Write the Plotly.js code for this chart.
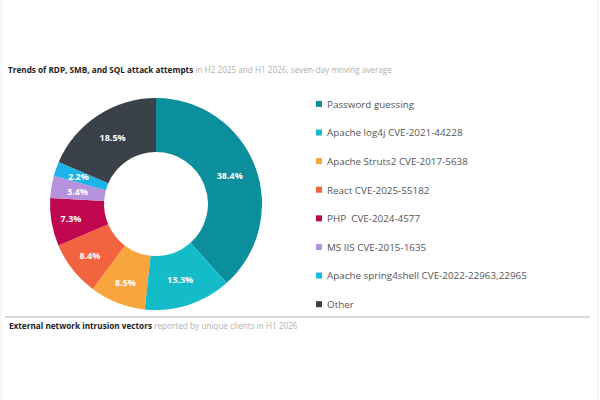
<!DOCTYPE html>
<html>
<head>
<meta charset="utf-8">
<script src="https://cdn.plot.ly/plotly-3.0.1.min.js"></script>
<style>
html,body{margin:0;padding:0;background:#fff;}
#chart{width:600px;height:400px;}
</style>
</head>
<body>
<div id="chart"></div>
<script>
const labels = [
  "Password guessing",
  "Apache log4j CVE-2021-44228",
  "Apache Struts2 CVE-2017-5638",
  "React CVE-2025-55182",
  "PHP  CVE-2024-4577",
  "MS IIS CVE-2015-1635",
  "Apache spring4shell CVE-2022-22963,22965",
  "Other"
];
const values = [38.4, 13.3, 8.5, 8.4, 7.3, 3.4, 2.2, 18.5];
const colors = ["#0b8f9c", "#14bcca", "#f9a53e", "#f26440", "#c0064e", "#b493dc", "#1ab4e8", "#3a4149"];

const W = 600, H = 400;
const SMALL = 5; // slices below this share get their label on an inner overlay ring
const mainText = values.map(v => v < SMALL ? "" : "<b>%{value:.1f}%</b>");
const innerText = values.map(v => v < SMALL ? "<b>%{value:.1f}%</b>" : "");

const trace = {
  type: "pie",
  labels: labels.map(l => l + "<br> "),
  values: values,
  sort: false,
  direction: "clockwise",
  rotation: 0,
  hole: 0.49,
  marker: {colors: colors, line: {width: 0}},
  texttemplate: mainText,
  textposition: "inside",
  insidetextorientation: "horizontal",
  textfont: {color: "#ffffff", size: 9, family: "Open Sans"},
  domain: {x: [50 / W, 262 / W], y: [1 - 310 / H, 1 - 98 / H]},
  hoverinfo: "label+value"
};

const overlay = {
  type: "pie",
  labels: labels.map(l => l + "<br> "),
  values: values,
  sort: false,
  direction: "clockwise",
  rotation: 0,
  hole: 0.59,
  showlegend: false,
  marker: {colors: colors.map(() => "rgba(0,0,0,0)"), line: {width: 0}},
  texttemplate: innerText,
  textposition: "inside",
  insidetextorientation: "horizontal",
  textfont: {color: "#ffffff", size: 9, family: "Open Sans"},
  domain: {x: [68 / W, 244 / W], y: [1 - 292 / H, 1 - 116 / H]},
  hoverinfo: "skip"
};

const layout = {
  width: W, height: H,
  margin: {l: 0, r: 0, t: 0, b: 0},
  paper_bgcolor: "#ffffff",
  plot_bgcolor: "#ffffff",
  font: {family: "Open Sans", color: "#555"},
  showlegend: true,
  uniformtext: {minsize: 9, mode: "show"},
  legend: {
    x: 287 / W, xanchor: "left",
    y: 1 - 91 / H, yanchor: "top",
    valign: "top",
    font: {size: 9.85, color: "#555", family: "Open Sans"},
    itemwidth: 30,
    bgcolor: "rgba(0,0,0,0)"
  },
  title: {
    text: "<b>Trends of RDP, SMB, and SQL attack attempts</b> <span style='color:#b0b0b0'>in H2 2025 and H1 2026, seven-day moving average</span>",
    x: 8 / W, xanchor: "left", xref: "paper",
    y: 1 - 70 / H, yanchor: "middle", yref: "container",
    font: {size: 8.2, color: "#222", family: "Open Sans"}
  },
  annotations: [{
    text: "<b>External network intrusion vectors</b> <span style='color:#b0b0b0'>reported by unique clients in H1 2026</span>",
    xref: "paper", yref: "paper",
    x: 7 / W, xanchor: "left",
    y: 1 - 325 / H, yanchor: "middle",
    showarrow: false,
    font: {size: 8.2, color: "#222", family: "Open Sans"}
  }],
  shapes: [
    {type: "line", xref: "paper", yref: "paper", x0: 5 / W, x1: 590 / W, y0: 1 - 317 / H, y1: 1 - 317 / H, line: {color: "#cccccc", width: 1.5}},
    {type: "line", xref: "paper", yref: "paper", x0: 1 / W, x1: 1 / W, y0: 0, y1: 1, line: {color: "#eeeeee", width: 1}},
    {type: "line", xref: "paper", yref: "paper", x0: 598 / W, x1: 598 / W, y0: 0, y1: 1, line: {color: "#eeeeee", width: 1}}
  ]
};

Plotly.newPlot("chart", [trace, overlay], layout, {displayModeBar: false, staticPlot: true}).then(gd => {
  gd.querySelectorAll(".legend .legendpoints path").forEach(p => {
    p.setAttribute("transform", "translate(32,0) scale(0.5)");
  });
});
</script>
</body>
</html>
